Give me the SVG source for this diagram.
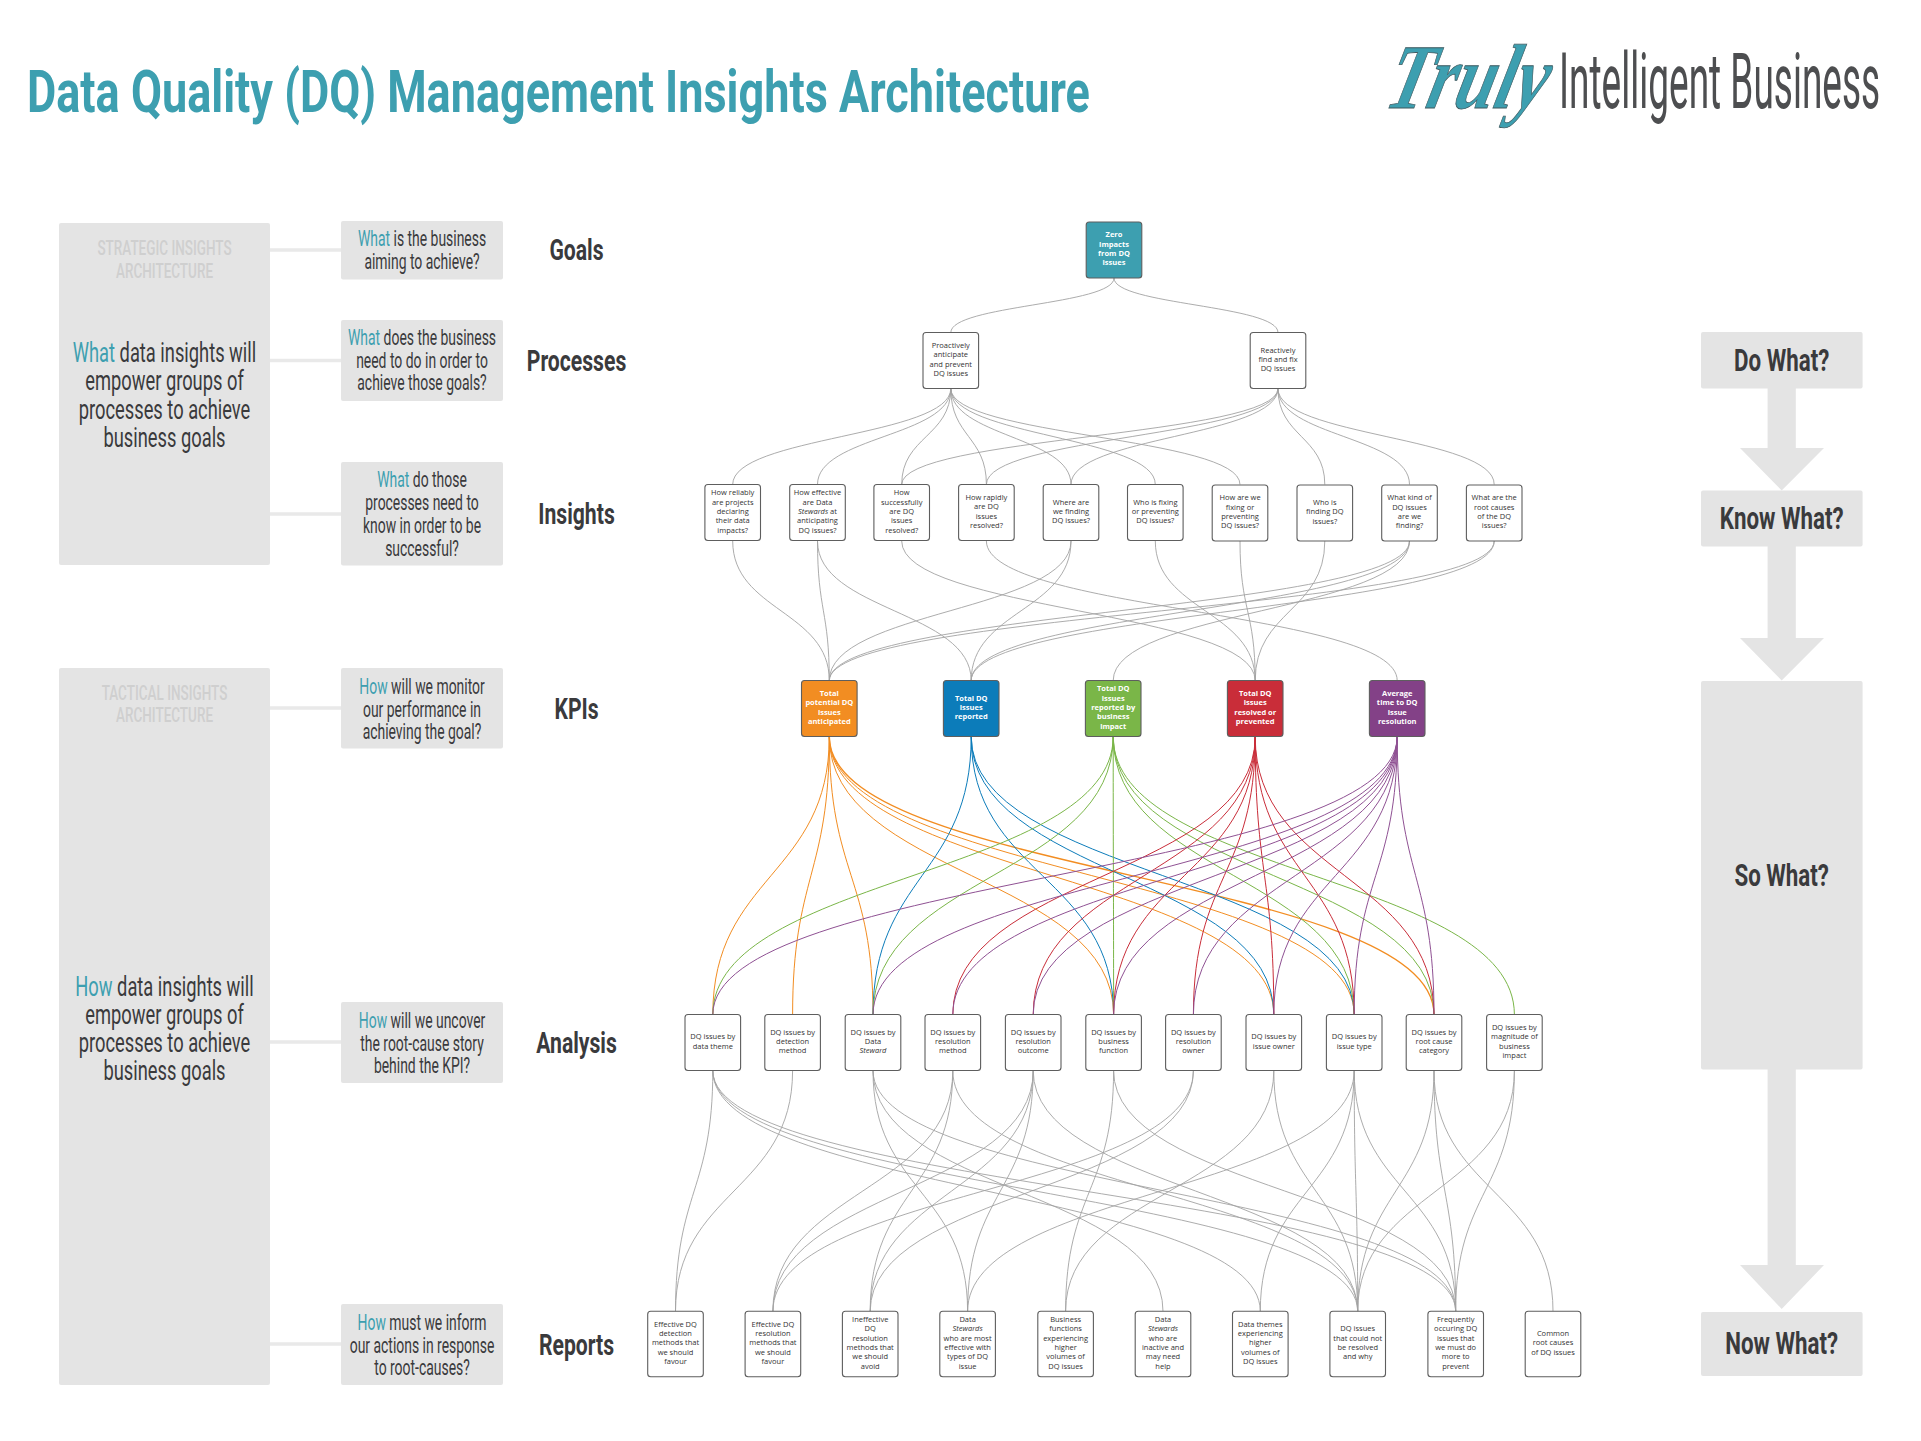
<svg xmlns="http://www.w3.org/2000/svg" width="1921" height="1441" viewBox="0 0 1921 1441">
<style>
text{font-family:"Roboto","Liberation Sans",sans-serif;fill:#3a3a3c}
.title{font-size:60px;font-weight:700;fill:#3d9fb0}
.truly{font-family:"Liberation Serif",serif;font-style:italic;font-weight:700;font-size:92px;fill:#3d9fb0;stroke:#3f5a60;stroke-width:.8px}
.brand{font-size:78px;font-weight:400;fill:#4d4e50}
.panel{fill:#e4e4e4}
.link{stroke:#e9e9e9;stroke-width:3.5;fill:none}
.sub{font-size:20px;font-weight:500;fill:#cfcfcf;text-anchor:middle}
.main{font-size:28px;text-anchor:middle}
.q{font-size:21.5px;text-anchor:middle}
.lab{font-size:29px;font-weight:700;text-anchor:middle}
.side{font-size:31px;font-weight:700;text-anchor:middle}
.hl{fill:#3d9fb0}
.box{fill:#fff;stroke:#5e5e5e;stroke-width:1.1}
.n{font-family:"Open Sans","Liberation Sans",sans-serif;font-size:7.5px;text-anchor:middle;fill:#333;transform:translateY(-1.3px)}
.w{font-family:"Open Sans","Liberation Sans",sans-serif;font-size:7.5px;font-weight:700;text-anchor:middle;fill:#fff;transform:translateY(-1.3px)}
.i{font-style:italic}
path{fill:none}
.e{stroke:#a3a3a3;stroke-width:.9}
.o{stroke:#f28d22;stroke-width:1}
.b{stroke:#0c7cba;stroke-width:1}
.g{stroke:#7ab648;stroke-width:1}
.r{stroke:#c92d39;stroke-width:1}
.p{stroke:#8f5193;stroke-width:1}
.t{stroke-width:1.4}
</style>
<rect width="1921" height="1441" fill="#fff"/>
<g id="header">
<text class="title" transform="translate(27,112) scale(.668,1)" textLength="1591" lengthAdjust="spacingAndGlyphs">Data Quality (DQ) Management Insights Architecture</text>
<text class="truly" transform="translate(1383,108) skewX(-14) scale(.76,1)" textLength="210" lengthAdjust="spacingAndGlyphs">Truly</text>
<text class="brand" transform="translate(1559,108) scale(.443,1)" textLength="725" lengthAdjust="spacingAndGlyphs">Intelligent Business</text>
</g>
<g id="strategic-panel">
<path class="link" d="M270 250H341M270 360.5H341M270 514H341"/>
<rect class="panel" x="59" y="223" width="211" height="342" rx="2"/>
<text class="sub" transform="translate(164.5,254.5) scale(.675,1)">STRATEGIC INSIGHTS</text>
<text class="sub" transform="translate(164.5,277.5) scale(.675,1)">ARCHITECTURE</text>
<text class="main" transform="translate(164.5,361.5) scale(.654,1)"><tspan class="hl">What</tspan> data insights will</text>
<text class="main" transform="translate(164.5,390) scale(.654,1)">empower groups of</text>
<text class="main" transform="translate(164.5,418.5) scale(.654,1)">processes to achieve</text>
<text class="main" transform="translate(164.5,447) scale(.654,1)">business goals</text>
</g>
<g id="q-goals"><rect class="panel" x="341" y="221" width="162" height="58.5" rx="2"/>
<text class="q" transform="translate(422,246) scale(.648,1)"><tspan class="hl">What</tspan> is the business</text>
<text class="q" transform="translate(422,269) scale(.648,1)">aiming to achieve?</text></g>
<g id="q-processes"><rect class="panel" x="341" y="320" width="162" height="81" rx="2"/>
<text class="q" transform="translate(422,345) scale(.648,1)"><tspan class="hl">What</tspan> does the business</text>
<text class="q" transform="translate(422,367.5) scale(.648,1)">need to do in order to</text>
<text class="q" transform="translate(422,390) scale(.648,1)">achieve those goals?</text></g>
<g id="q-insights"><rect class="panel" x="341" y="462" width="162" height="103.5" rx="2"/>
<text class="q" transform="translate(422,487) scale(.648,1)"><tspan class="hl">What</tspan> do those</text>
<text class="q" transform="translate(422,510) scale(.648,1)">processes need to</text>
<text class="q" transform="translate(422,533) scale(.648,1)">know in order to be</text>
<text class="q" transform="translate(422,555.5) scale(.648,1)">successful?</text></g>
<g id="tactical-panel">
<path class="link" d="M270 708H341M270 1042H341M270 1344H341"/>
<rect class="panel" x="59" y="668" width="211" height="717" rx="2"/>
<text class="sub" transform="translate(164.5,700) scale(.675,1)">TACTICAL INSIGHTS</text>
<text class="sub" transform="translate(164.5,722) scale(.675,1)">ARCHITECTURE</text>
<text class="main" transform="translate(164.5,996) scale(.654,1)"><tspan class="hl">How</tspan> data insights will</text>
<text class="main" transform="translate(164.5,1024) scale(.654,1)">empower groups of</text>
<text class="main" transform="translate(164.5,1052) scale(.654,1)">processes to achieve</text>
<text class="main" transform="translate(164.5,1080) scale(.654,1)">business goals</text>
</g>
<g id="q-kpis"><rect class="panel" x="341" y="668" width="162" height="80.5" rx="2"/>
<text class="q" transform="translate(422,694) scale(.648,1)"><tspan class="hl">How</tspan> will we monitor</text>
<text class="q" transform="translate(422,716.5) scale(.648,1)">our performance in</text>
<text class="q" transform="translate(422,738.5) scale(.648,1)">achieving the goal?</text></g>
<g id="q-analysis"><rect class="panel" x="341" y="1002" width="162" height="81" rx="2"/>
<text class="q" transform="translate(422,1028) scale(.648,1)"><tspan class="hl">How</tspan> will we uncover</text>
<text class="q" transform="translate(422,1050.5) scale(.648,1)">the root-cause story</text>
<text class="q" transform="translate(422,1072.5) scale(.648,1)">behind the KPI?</text></g>
<g id="q-reports"><rect class="panel" x="341" y="1304" width="162" height="81" rx="2"/>
<text class="q" transform="translate(422,1329.5) scale(.648,1)"><tspan class="hl">How</tspan> must we inform</text>
<text class="q" transform="translate(422,1352.5) scale(.648,1)">our actions in response</text>
<text class="q" transform="translate(422,1375) scale(.648,1)">to root-causes?</text></g>
<g id="row-labels">
<text class="lab" transform="translate(576.5,260) scale(.73,1)">Goals</text>
<text class="lab" transform="translate(576.5,371) scale(.73,1)">Processes</text>
<text class="lab" transform="translate(576.5,523.5) scale(.73,1)">Insights</text>
<text class="lab" transform="translate(576.5,718.5) scale(.73,1)">KPIs</text>
<text class="lab" transform="translate(576.5,1053) scale(.73,1)">Analysis</text>
<text class="lab" transform="translate(576.5,1355) scale(.73,1)">Reports</text>
</g>
<g id="connectors">
<path class="e" d="M1114 278C1114 305 950.8 305 950.8 332.6M1114 278C1114 305 1278 305 1278 332.6"/>
<path class="e" d="M950.8 388.5C950.8 436.5 732.7 436.5 732.7 484.5M950.8 388.5C950.8 436.5 817.5 436.5 817.5 484.5M950.8 388.5C950.8 436.5 901.7 436.5 901.7 484.5M950.8 388.5C950.8 436.5 986.4 436.5 986.4 484.5M950.8 388.5C950.8 436.5 1071 436.5 1071 484.5M950.8 388.5C950.8 436.5 1155.3 436.5 1155.3 484.5M950.8 388.5C950.8 436.5 1240 436.5 1240 484.5"/>
<path class="e" d="M1278 388.5C1278 436.5 901.7 436.5 901.7 484.5M1278 388.5C1278 436.5 986.4 436.5 986.4 484.5M1278 388.5C1278 436.5 1071 436.5 1071 484.5M1278 388.5C1278 436.5 1324.8 436.5 1324.8 484.5M1278 388.5C1278 436.5 1409.5 436.5 1409.5 484.5M1278 388.5C1278 436.5 1494.2 436.5 1494.2 484.5"/>
<path class="e" d="M732.7 541C732.7 610.8 829.3 610.8 829.3 680.6M817.5 541C817.5 610.8 829.3 610.8 829.3 680.6M817.5 541C817.5 610.8 971.2 610.8 971.2 680.6M1071 541C1071 610.8 829.3 610.8 829.3 680.6M1071 541C1071 610.8 971.2 610.8 971.2 680.6M1409.5 541C1409.5 610.8 829.3 610.8 829.3 680.6M1409.5 541C1409.5 610.8 971.2 610.8 971.2 680.6M1409.5 541C1409.5 610.8 1113.2 610.8 1113.2 680.6M1494.2 541C1494.2 610.8 829.3 610.8 829.3 680.6M1494.2 541C1494.2 610.8 971.2 610.8 971.2 680.6"/>
<path class="e" d="M901.7 541C901.7 610.8 1255.2 610.8 1255.2 680.6M1155.3 541C1155.3 610.8 1255.2 610.8 1255.2 680.6M1240 541C1240 610.8 1255.2 610.8 1255.2 680.6M1324.8 541C1324.8 610.8 1255.2 610.8 1255.2 680.6M986.4 541C986.4 610.8 1397.2 610.8 1397.2 680.6"/>
<path class="o" d="M829.3 736.5C829.3 875.6 712.8 875.6 712.8 1014.7M829.3 736.5C829.3 875.6 792.6 875.6 792.6 1014.7M829.3 736.5C829.3 875.6 873 875.6 873 1014.7M829.3 736.5C829.3 875.6 1113.6 875.6 1113.6 1014.7M829.3 736.5C829.3 875.6 1273.8 875.6 1273.8 1014.7M829.3 736.5C829.3 875.6 1354.2 875.6 1354.2 1014.7"/>
<path class="o t" d="M829.3 736.5C829.3 875.6 1434 875.6 1434 1014.7"/>
<path class="b" d="M971.2 736.5C971.2 875.6 873 875.6 873 1014.7M971.2 736.5C971.2 875.6 1113.6 875.6 1113.6 1014.7M971.2 736.5C971.2 875.6 1273.8 875.6 1273.8 1014.7M971.2 736.5C971.2 875.6 1354.2 875.6 1354.2 1014.7"/>
<path class="g" d="M1113.2 736.5C1113.2 875.6 712.8 875.6 712.8 1014.7M1113.2 736.5C1113.2 875.6 873 875.6 873 1014.7M1113.2 736.5C1113.2 875.6 1113.6 875.6 1113.6 1014.7M1113.2 736.5C1113.2 875.6 1354.2 875.6 1354.2 1014.7M1113.2 736.5C1113.2 875.6 1434 875.6 1434 1014.7M1113.2 736.5C1113.2 875.6 1514.4 875.6 1514.4 1014.7"/>
<path class="r" d="M1255.2 736.5C1255.2 875.6 952.8 875.6 952.8 1014.7M1255.2 736.5C1255.2 875.6 1033.2 875.6 1033.2 1014.7M1255.2 736.5C1255.2 875.6 1113.6 875.6 1113.6 1014.7M1255.2 736.5C1255.2 875.6 1193.4 875.6 1193.4 1014.7M1255.2 736.5C1255.2 875.6 1273.8 875.6 1273.8 1014.7M1255.2 736.5C1255.2 875.6 1354.2 875.6 1354.2 1014.7M1255.2 736.5C1255.2 875.6 1434 875.6 1434 1014.7"/>
<path class="p" d="M1397.2 736.5C1397.2 875.6 712.8 875.6 712.8 1014.7"/>
<path class="p" d="M1397.2 736.5C1397.2 875.6 873 875.6 873 1014.7M1397.2 736.5C1397.2 875.6 952.8 875.6 952.8 1014.7M1397.2 736.5C1397.2 875.6 1033.2 875.6 1033.2 1014.7M1397.2 736.5C1397.2 875.6 1113.6 875.6 1113.6 1014.7M1397.2 736.5C1397.2 875.6 1193.4 875.6 1193.4 1014.7M1397.2 736.5C1397.2 875.6 1273.8 875.6 1273.8 1014.7M1397.2 736.5C1397.2 875.6 1354.2 875.6 1354.2 1014.7M1397.2 736.5C1397.2 875.6 1434 875.6 1434 1014.7"/>
<path class="e" d="M712.8 1070.5C712.8 1191 675.5 1191 675.5 1311.3M712.8 1070.5C712.8 1191 1260.3 1191 1260.3 1311.3M712.8 1070.5C712.8 1191 1357.7 1191 1357.7 1311.3M712.8 1070.5C712.8 1191 1455.7 1191 1455.7 1311.3M792.6 1070.5C792.6 1191 675.5 1191 675.5 1311.3"/>
<path class="e" d="M873 1070.5C873 1191 967.6 1191 967.6 1311.3M873 1070.5C873 1191 1163 1191 1163 1311.3M873 1070.5C873 1191 1455.7 1191 1455.7 1311.3"/>
<path class="e" d="M952.8 1070.5C952.8 1191 772.9 1191 772.9 1311.3M952.8 1070.5C952.8 1191 870.2 1191 870.2 1311.3M952.8 1070.5C952.8 1191 1357.7 1191 1357.7 1311.3"/>
<path class="e" d="M1033.2 1070.5C1033.2 1191 772.9 1191 772.9 1311.3M1033.2 1070.5C1033.2 1191 870.2 1191 870.2 1311.3M1033.2 1070.5C1033.2 1191 967.6 1191 967.6 1311.3M1033.2 1070.5C1033.2 1191 1357.7 1191 1357.7 1311.3"/>
<path class="e" d="M1113.6 1070.5C1113.6 1191 1065.6 1191 1065.6 1311.3M1113.6 1070.5C1113.6 1191 1455.7 1191 1455.7 1311.3"/>
<path class="e" d="M1193.4 1070.5C1193.4 1191 772.9 1191 772.9 1311.3M1193.4 1070.5C1193.4 1191 870.2 1191 870.2 1311.3"/>
<path class="e" d="M1273.8 1070.5C1273.8 1191 1065.6 1191 1065.6 1311.3M1273.8 1070.5C1273.8 1191 1357.7 1191 1357.7 1311.3"/>
<path class="e" d="M1354.2 1070.5C1354.2 1191 967.6 1191 967.6 1311.3M1354.2 1070.5C1354.2 1191 1260.3 1191 1260.3 1311.3M1354.2 1070.5C1354.2 1191 1357.7 1191 1357.7 1311.3M1354.2 1070.5C1354.2 1191 1455.7 1191 1455.7 1311.3"/>
<path class="e" d="M1434 1070.5C1434 1191 1357.7 1191 1357.7 1311.3M1434 1070.5C1434 1191 1455.7 1191 1455.7 1311.3M1434 1070.5C1434 1191 1553 1191 1553 1311.3M1514.4 1070.5C1514.4 1191 1357.7 1191 1357.7 1311.3M1514.4 1070.5C1514.4 1191 1455.7 1191 1455.7 1311.3"/>
</g>
<g id="goal" transform="translate(1114,250)"><rect x="-27.8" y="-28" width="55.6" height="56" rx="3" fill="#3d9fb0" stroke="#5e5e5e" stroke-width="1.1"/><text class="w" y="-11.4">Zero<tspan x="0" dy="9.4">impacts</tspan><tspan x="0" dy="9.4">from DQ</tspan><tspan x="0" dy="9.4">issues</tspan></text></g>
<g id="p1" transform="translate(950.8,360.5)"><rect class="box" x="-27.8" y="-28" width="55.6" height="56" rx="3"/><text class="n" y="-11.4">Proactively<tspan x="0" dy="9.4">anticipate</tspan><tspan x="0" dy="9.4">and prevent</tspan><tspan x="0" dy="9.4">DQ issues</tspan></text></g>
<g id="p2" transform="translate(1278,360.5)"><rect class="box" x="-27.8" y="-28" width="55.6" height="56" rx="3"/><text class="n" y="-6.7">Reactively<tspan x="0" dy="9.4">find and fix</tspan><tspan x="0" dy="9.4">DQ issues</tspan></text></g>
<g id="i1" transform="translate(732.7,512.5)"><rect class="box" x="-27.8" y="-28" width="55.6" height="56" rx="3"/><text class="n" y="-16.1">How reliably<tspan x="0" dy="9.4">are projects</tspan><tspan x="0" dy="9.4">declaring</tspan><tspan x="0" dy="9.4">their data</tspan><tspan x="0" dy="9.4">impacts?</tspan></text></g>
<g id="i2" transform="translate(817.5,512.5)"><rect class="box" x="-27.8" y="-28" width="55.6" height="56" rx="3"/><text class="n" y="-16.1">How effective<tspan x="0" dy="9.4">are Data</tspan><tspan x="0" dy="9.4"><tspan class="i">Stewards</tspan> at</tspan><tspan x="0" dy="9.4">anticipating</tspan><tspan x="0" dy="9.4">DQ issues?</tspan></text></g>
<g id="i3" transform="translate(901.7,512.5)"><rect class="box" x="-27.8" y="-28" width="55.6" height="56" rx="3"/><text class="n" y="-16.1">How<tspan x="0" dy="9.4">successfully</tspan><tspan x="0" dy="9.4">are DQ</tspan><tspan x="0" dy="9.4">issues</tspan><tspan x="0" dy="9.4">resolved?</tspan></text></g>
<g id="i4" transform="translate(986.4,512.5)"><rect class="box" x="-27.8" y="-28" width="55.6" height="56" rx="3"/><text class="n" y="-11.4">How rapidly<tspan x="0" dy="9.4">are DQ</tspan><tspan x="0" dy="9.4">issues</tspan><tspan x="0" dy="9.4">resolved?</tspan></text></g>
<g id="i5" transform="translate(1071,512.5)"><rect class="box" x="-27.8" y="-28" width="55.6" height="56" rx="3"/><text class="n" y="-6.7">Where are<tspan x="0" dy="9.4">we finding</tspan><tspan x="0" dy="9.4">DQ issues?</tspan></text></g>
<g id="i6" transform="translate(1155.3,512.5)"><rect class="box" x="-27.8" y="-28" width="55.6" height="56" rx="3"/><text class="n" y="-6.7">Who is fixing<tspan x="0" dy="9.4">or preventing</tspan><tspan x="0" dy="9.4">DQ issues?</tspan></text></g>
<g id="i7" transform="translate(1240,513)"><rect class="box" x="-27.8" y="-28" width="55.6" height="56" rx="3"/><text class="n" y="-11.4">How are we<tspan x="0" dy="9.4">fixing or</tspan><tspan x="0" dy="9.4">preventing</tspan><tspan x="0" dy="9.4">DQ issues?</tspan></text></g>
<g id="i8" transform="translate(1324.8,513)"><rect class="box" x="-27.8" y="-28" width="55.6" height="56" rx="3"/><text class="n" y="-6.7">Who is<tspan x="0" dy="9.4">finding DQ</tspan><tspan x="0" dy="9.4">issues?</tspan></text></g>
<g id="i9" transform="translate(1409.5,513)"><rect class="box" x="-27.8" y="-28" width="55.6" height="56" rx="3"/><text class="n" y="-11.4">What kind of<tspan x="0" dy="9.4">DQ issues</tspan><tspan x="0" dy="9.4">are we</tspan><tspan x="0" dy="9.4">finding?</tspan></text></g>
<g id="i10" transform="translate(1494.2,513)"><rect class="box" x="-27.8" y="-28" width="55.6" height="56" rx="3"/><text class="n" y="-11.4">What are the<tspan x="0" dy="9.4">root causes</tspan><tspan x="0" dy="9.4">of the DQ</tspan><tspan x="0" dy="9.4">issues?</tspan></text></g>
<g id="k1" transform="translate(829.3,708.5)"><rect x="-27.8" y="-28" width="55.6" height="56" rx="3" fill="#f28d22" stroke="#5e5e5e" stroke-width="1.1"/><text class="w" y="-11.4">Total<tspan x="0" dy="9.4">potential DQ</tspan><tspan x="0" dy="9.4">issues</tspan><tspan x="0" dy="9.4">anticipated</tspan></text></g>
<g id="k2" transform="translate(971.2,708.5)"><rect x="-27.8" y="-28" width="55.6" height="56" rx="3" fill="#0c7cba" stroke="#5e5e5e" stroke-width="1.1"/><text class="w" y="-6.7">Total DQ<tspan x="0" dy="9.4">issues</tspan><tspan x="0" dy="9.4">reported</tspan></text></g>
<g id="k3" transform="translate(1113.2,708.5)"><rect x="-27.8" y="-28" width="55.6" height="56" rx="3" fill="#7ab648" stroke="#5e5e5e" stroke-width="1.1"/><text class="w" y="-16.1">Total DQ<tspan x="0" dy="9.4">issues</tspan><tspan x="0" dy="9.4">reported by</tspan><tspan x="0" dy="9.4">business</tspan><tspan x="0" dy="9.4">impact</tspan></text></g>
<g id="k4" transform="translate(1255.2,708.5)"><rect x="-27.8" y="-28" width="55.6" height="56" rx="3" fill="#c92d39" stroke="#5e5e5e" stroke-width="1.1"/><text class="w" y="-11.4">Total DQ<tspan x="0" dy="9.4">issues</tspan><tspan x="0" dy="9.4">resolved or</tspan><tspan x="0" dy="9.4">prevented</tspan></text></g>
<g id="k5" transform="translate(1397.2,708.5)"><rect x="-27.8" y="-28" width="55.6" height="56" rx="3" fill="#834187" stroke="#5e5e5e" stroke-width="1.1"/><text class="w" y="-11.4">Average<tspan x="0" dy="9.4">time to DQ</tspan><tspan x="0" dy="9.4">issue</tspan><tspan x="0" dy="9.4">resolution</tspan></text></g>
<g id="a1" transform="translate(712.8,1042.5)"><rect class="box" x="-27.8" y="-28" width="55.6" height="56" rx="3"/><text class="n" y="-2">DQ issues by<tspan x="0" dy="9.4">data theme</tspan></text></g>
<g id="a2" transform="translate(792.6,1042.5)"><rect class="box" x="-27.8" y="-28" width="55.6" height="56" rx="3"/><text class="n" y="-6.7">DQ issues by<tspan x="0" dy="9.4">detection</tspan><tspan x="0" dy="9.4">method</tspan></text></g>
<g id="a3" transform="translate(873,1042.5)"><rect class="box" x="-27.8" y="-28" width="55.6" height="56" rx="3"/><text class="n" y="-6.7">DQ issues by<tspan x="0" dy="9.4">Data</tspan><tspan x="0" dy="9.4" class="i">Steward</tspan></text></g>
<g id="a4" transform="translate(952.8,1042.5)"><rect class="box" x="-27.8" y="-28" width="55.6" height="56" rx="3"/><text class="n" y="-6.7">DQ issues by<tspan x="0" dy="9.4">resolution</tspan><tspan x="0" dy="9.4">method</tspan></text></g>
<g id="a5" transform="translate(1033.2,1042.5)"><rect class="box" x="-27.8" y="-28" width="55.6" height="56" rx="3"/><text class="n" y="-6.7">DQ issues by<tspan x="0" dy="9.4">resolution</tspan><tspan x="0" dy="9.4">outcome</tspan></text></g>
<g id="a6" transform="translate(1113.6,1042.5)"><rect class="box" x="-27.8" y="-28" width="55.6" height="56" rx="3"/><text class="n" y="-6.7">DQ issues by<tspan x="0" dy="9.4">business</tspan><tspan x="0" dy="9.4">function</tspan></text></g>
<g id="a7" transform="translate(1193.4,1042.5)"><rect class="box" x="-27.8" y="-28" width="55.6" height="56" rx="3"/><text class="n" y="-6.7">DQ issues by<tspan x="0" dy="9.4">resolution</tspan><tspan x="0" dy="9.4">owner</tspan></text></g>
<g id="a8" transform="translate(1273.8,1042.5)"><rect class="box" x="-27.8" y="-28" width="55.6" height="56" rx="3"/><text class="n" y="-2">DQ issues by<tspan x="0" dy="9.4">issue owner</tspan></text></g>
<g id="a9" transform="translate(1354.2,1042.5)"><rect class="box" x="-27.8" y="-28" width="55.6" height="56" rx="3"/><text class="n" y="-2">DQ issues by<tspan x="0" dy="9.4">issue type</tspan></text></g>
<g id="a10" transform="translate(1434,1042.5)"><rect class="box" x="-27.8" y="-28" width="55.6" height="56" rx="3"/><text class="n" y="-6.7">DQ issues by<tspan x="0" dy="9.4">root cause</tspan><tspan x="0" dy="9.4">category</tspan></text></g>
<g id="a11" transform="translate(1514.4,1042.5)"><rect class="box" x="-27.8" y="-28" width="55.6" height="56" rx="3"/><text class="n" y="-11.4">DQ issues by<tspan x="0" dy="9.4">magnitude of</tspan><tspan x="0" dy="9.4">business</tspan><tspan x="0" dy="9.4">impact</tspan></text></g>
<g id="r1" transform="translate(675.5,1344)"><rect class="box" x="-27.8" y="-32.7" width="55.6" height="65.4" rx="3"/><text class="n" y="-16.1">Effective DQ<tspan x="0" dy="9.4">detection</tspan><tspan x="0" dy="9.4">methods that</tspan><tspan x="0" dy="9.4">we should</tspan><tspan x="0" dy="9.4">favour</tspan></text></g>
<g id="r2" transform="translate(772.9,1344)"><rect class="box" x="-27.8" y="-32.7" width="55.6" height="65.4" rx="3"/><text class="n" y="-16.1">Effective DQ<tspan x="0" dy="9.4">resolution</tspan><tspan x="0" dy="9.4">methods that</tspan><tspan x="0" dy="9.4">we should</tspan><tspan x="0" dy="9.4">favour</tspan></text></g>
<g id="r3" transform="translate(870.2,1344)"><rect class="box" x="-27.8" y="-32.7" width="55.6" height="65.4" rx="3"/><text class="n" y="-20.8">Ineffective<tspan x="0" dy="9.4">DQ</tspan><tspan x="0" dy="9.4">resolution</tspan><tspan x="0" dy="9.4">methods that</tspan><tspan x="0" dy="9.4">we should</tspan><tspan x="0" dy="9.4">avoid</tspan></text></g>
<g id="r4" transform="translate(967.6,1344)"><rect class="box" x="-27.8" y="-32.7" width="55.6" height="65.4" rx="3"/><text class="n" y="-20.8">Data<tspan x="0" dy="9.4" class="i">Stewards</tspan><tspan x="0" dy="9.4">who are most</tspan><tspan x="0" dy="9.4">effective with</tspan><tspan x="0" dy="9.4">types of DQ</tspan><tspan x="0" dy="9.4">issue</tspan></text></g>
<g id="r5" transform="translate(1065.6,1344)"><rect class="box" x="-27.8" y="-32.7" width="55.6" height="65.4" rx="3"/><text class="n" y="-20.8">Business<tspan x="0" dy="9.4">functions</tspan><tspan x="0" dy="9.4">experiencing</tspan><tspan x="0" dy="9.4">higher</tspan><tspan x="0" dy="9.4">volumes of</tspan><tspan x="0" dy="9.4">DQ issues</tspan></text></g>
<g id="r6" transform="translate(1163,1344)"><rect class="box" x="-27.8" y="-32.7" width="55.6" height="65.4" rx="3"/><text class="n" y="-20.8">Data<tspan x="0" dy="9.4" class="i">Stewards</tspan><tspan x="0" dy="9.4">who are</tspan><tspan x="0" dy="9.4">inactive and</tspan><tspan x="0" dy="9.4">may need</tspan><tspan x="0" dy="9.4">help</tspan></text></g>
<g id="r7" transform="translate(1260.3,1344)"><rect class="box" x="-27.8" y="-32.7" width="55.6" height="65.4" rx="3"/><text class="n" y="-16.1">Data themes<tspan x="0" dy="9.4">experiencing</tspan><tspan x="0" dy="9.4">higher</tspan><tspan x="0" dy="9.4">volumes of</tspan><tspan x="0" dy="9.4">DQ issues</tspan></text></g>
<g id="r8" transform="translate(1357.7,1344)"><rect class="box" x="-27.8" y="-32.7" width="55.6" height="65.4" rx="3"/><text class="n" y="-11.4">DQ issues<tspan x="0" dy="9.4">that could not</tspan><tspan x="0" dy="9.4">be resolved</tspan><tspan x="0" dy="9.4">and why</tspan></text></g>
<g id="r9" transform="translate(1455.7,1344)"><rect class="box" x="-27.8" y="-32.7" width="55.6" height="65.4" rx="3"/><text class="n" y="-20.8">Frequently<tspan x="0" dy="9.4">occuring DQ</tspan><tspan x="0" dy="9.4">issues that</tspan><tspan x="0" dy="9.4">we must do</tspan><tspan x="0" dy="9.4">more to</tspan><tspan x="0" dy="9.4">prevent</tspan></text></g>
<g id="r10" transform="translate(1553,1344)"><rect class="box" x="-27.8" y="-32.7" width="55.6" height="65.4" rx="3"/><text class="n" y="-6.7">Common<tspan x="0" dy="9.4">root causes</tspan><tspan x="0" dy="9.4">of DQ issues</tspan></text></g>
<g id="flow">
<path class="panel" d="M1767.6 388H1795.8V448H1824L1781.7 490.5L1740 448H1767.6Z" style="fill:#e4e4e4"/>
<path class="panel" d="M1767.6 546H1795.8V638H1824L1781.7 680.5L1740 638H1767.6Z" style="fill:#e4e4e4"/>
<path class="panel" d="M1767.6 1069H1795.8V1265H1824L1781.7 1309L1740 1265H1767.6Z" style="fill:#e4e4e4"/>
</g>
<g id="do-what"><rect class="panel" x="1701" y="332" width="161.6" height="56.5" rx="2"/><text class="side" transform="translate(1781.7,370.5) scale(.72,1)">Do What?</text></g>
<g id="know-what"><rect class="panel" x="1701" y="490.5" width="161.6" height="56" rx="2"/><text class="side" transform="translate(1781.7,529) scale(.72,1)">Know What?</text></g>
<g id="so-what"><rect class="panel" x="1701" y="681" width="161.6" height="388.5" rx="2"/><text class="side" transform="translate(1781.7,885.5) scale(.72,1)">So What?</text></g>
<g id="now-what"><rect class="panel" x="1701" y="1312" width="161.6" height="64" rx="2"/><text class="side" transform="translate(1781.7,1354) scale(.72,1)">Now What?</text></g>
</svg>
